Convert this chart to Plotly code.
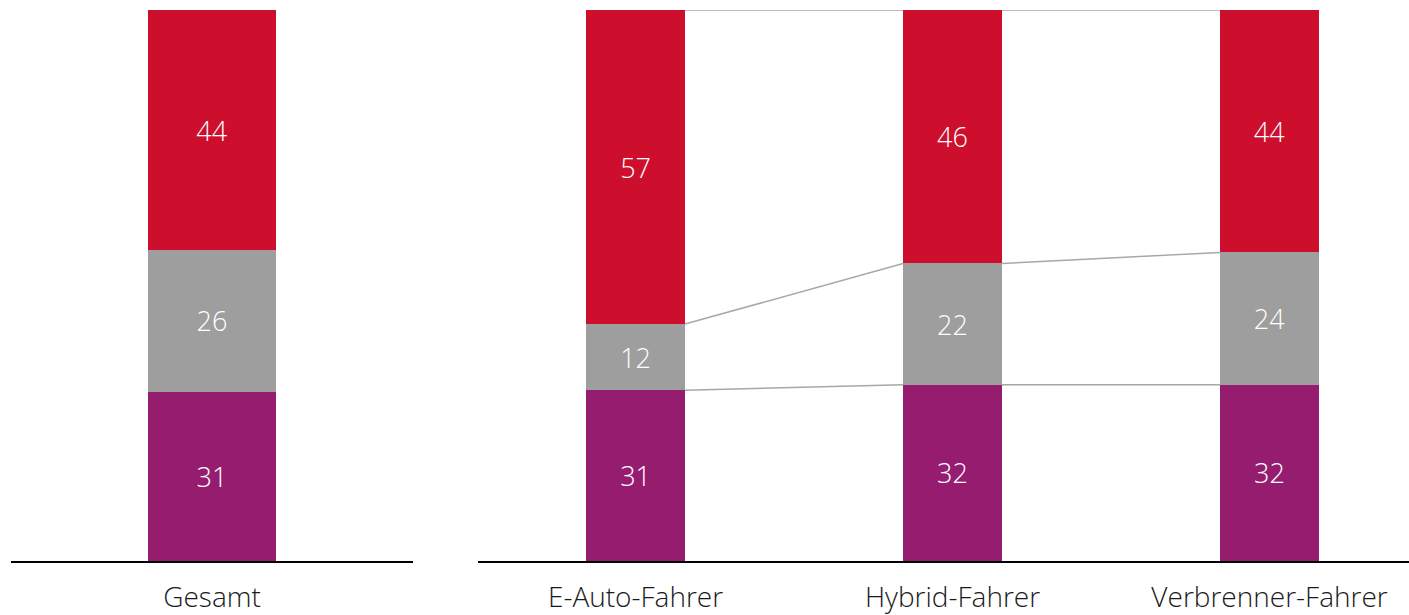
import plotly.graph_objects as go

# Anteile je Gruppe (Prozent), unten -> oben
overall_label = ["Gesamt"]
overall_purple = [31]
overall_grey = [26]
overall_red = [44]

groups = ["E-Auto-Fahrer", "Hybrid-Fahrer", "Verbrenner-Fahrer"]
purple = [31, 32, 32]
grey = [12, 22, 24]
red = [57, 46, 44]

C_PURPLE = "#951C6F"
C_GREY = "#9D9E9D"
C_RED = "#CD0E2D"
C_LINK = "#A8A8A8"

FONT = "Open Sans"
W = 1409
H = 615

fig = go.Figure()


def add_stack(xs, series, xaxis, width):
    for vals, col in series:
        fig.add_trace(go.Bar(
            x=xs, y=vals, width=width, marker=dict(color=col, line=dict(width=0)),
            text=[str(v) for v in vals], textposition="inside",
            insidetextanchor="middle", textangle=0,
            textfont=dict(family=FONT, size=27, color="white", weight=300),
            xaxis=xaxis, yaxis="y" if xaxis == "x" else "y2",
            showlegend=False, hoverinfo="skip", cliponaxis=False,
        ))


add_stack([0], [(overall_purple, C_PURPLE), (overall_grey, C_GREY), (overall_red, C_RED)], "x", 0.316)
gx = list(range(len(groups)))
bw = 0.312
add_stack(gx, [(purple, C_PURPLE), (grey, C_GREY), (red, C_RED)], "x2", bw)

# Verbindungslinien zwischen den Segmentgrenzen benachbarter Balken
totals = [p + g + r for p, g, r in zip(purple, grey, red)]
levels = [
    [100 * p / t for p, t in zip(purple, totals)],
    [100 * (p + g) / t for p, g, t in zip(purple, grey, totals)],
    [100.0 for _ in totals],
]
for lv in levels:
    for i in range(len(groups) - 1):
        fig.add_trace(go.Scatter(
            x=[gx[i] + bw / 2, gx[i + 1] - bw / 2], y=[lv[i], lv[i + 1]],
            mode="lines", line=dict(color=C_LINK, width=1.5),
            xaxis="x2", yaxis="y2", showlegend=False, hoverinfo="skip",
            cliponaxis=False,
        ))

axis_common = dict(
    showline=True, linecolor="black", linewidth=1.8, showgrid=False,
    zeroline=False, ticks="", ticklabelstandoff=10, automargin=False,
    tickfont=dict(family=FONT, size=28, color="#1a1a1a", weight=300),
)

fig.update_layout(
    width=W, height=H,
    margin=dict(l=0, r=0, t=10, b=54),
    paper_bgcolor="white", plot_bgcolor="white",
    barmode="stack", barnorm="percent",
    xaxis=dict(domain=[11 / W, 413 / W], range=[-0.5, 0.5],
               tickvals=[0], ticktext=overall_label, **axis_common),
    xaxis2=dict(domain=[478 / W, 1.0], range=[-0.497, 2.44],
                tickvals=gx, ticktext=groups, **axis_common),
    yaxis=dict(range=[0, 100], visible=False, domain=[0, 1]),
    yaxis2=dict(range=[0, 100], visible=False, domain=[0, 1], anchor="x2"),
    font=dict(family=FONT),
)
fig.update_xaxes(fixedrange=True)
fig.update_yaxes(fixedrange=True)

fig.write_html("out.html")
